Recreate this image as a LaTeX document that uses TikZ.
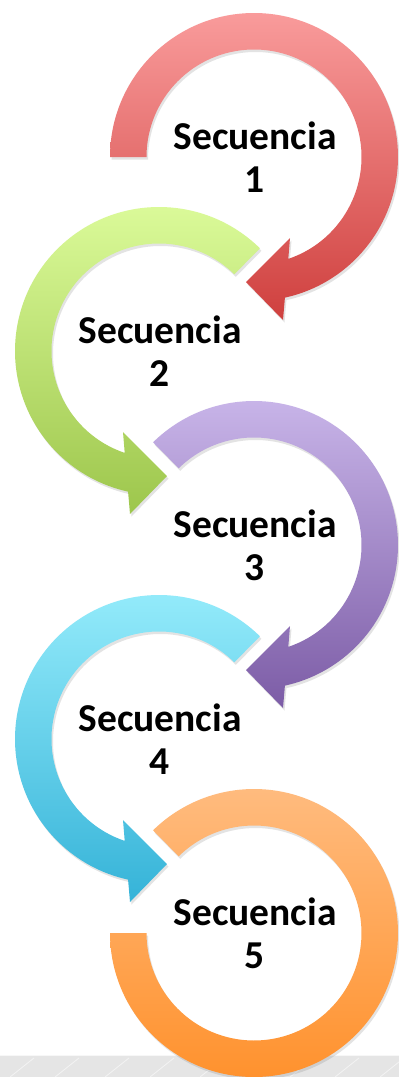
\documentclass[tikz,border=0pt]{standalone}
\usepackage{fontspec}
\setmainfont{Carlito}
\usetikzlibrary{shadows,calc}
\definecolor{redT}{HTML}{F99B9B}
\definecolor{redB}{HTML}{CF403E}
\definecolor{grnT}{HTML}{DDFC9C}
\definecolor{grnB}{HTML}{9DC64C}
\definecolor{purT}{HTML}{CBB8EB}
\definecolor{purB}{HTML}{7C5CA6}
\definecolor{bluT}{HTML}{97EDFC}
\definecolor{bluB}{HTML}{35B3D8}
\definecolor{orgT}{HTML}{FFBB7E}
\definecolor{orgB}{HTML}{FF922E}
\definecolor{stripG}{HTML}{E5E5E5}
\begin{document}
\begin{tikzpicture}[x=1pt,y=1pt,
  band/.style={draw=none, drop shadow={opacity=0.22, shadow xshift=1.5pt, shadow yshift=-2.5pt}},
  redband/.style={band, top color=redT, bottom color=redB},
  grnband/.style={band, top color=grnT, bottom color=grnB},
  purband/.style={band, top color=purT, bottom color=purB},
  bluband/.style={band, top color=bluT, bottom color=bluB},
  orgband/.style={band, top color=orgT, bottom color=orgB},
  lbl/.style={font=\fontsize{39.5}{43}\selectfont\bfseries, align=center, inner sep=0pt, text=black}]
\useasboundingbox (0,0) rectangle (399,-1077);
\fill[white] (0,0) rectangle (399,-1077);
% bottom strip
\fill[stripG] (0,-1055) rectangle (399,-1077);
\draw[white, opacity=0.7, line width=0.6pt] (0,-1055.5) -- (399,-1055.5);
\foreach \x in {10,55,105,150,200,245,290,335,380}
  \draw[white, opacity=0.55, line width=0.8pt] (\x,-1077) -- (\x+24,-1058);
% centres
\coordinate (c1) at (254,-157);
\coordinate (c2) at (159,-351);
\coordinate (c3) at (254,-545);
\coordinate (c4) at (159,-739);
\coordinate (c5) at (254,-933);
% 1 red (clockwise)
\begin{scope}[shift={(c1)}]
\path[redband] (180:144) arc[start angle=180, end angle=-77.6, radius=144]
  -- (29,-163) -- (-8,-125) -- (36,-81) -- (-71.4:107.5)
  arc[start angle=-71.4, end angle=180, radius=107.5] -- cycle;
\end{scope}
% 2 green (counter-clockwise)
\begin{scope}[shift={(c2)}]
\path[grnband] (45.5:144) arc[start angle=45.5, end angle=257.6, radius=144]
  -- (-29,-163) -- (8,-125) -- (-36,-81) -- (251.4:107.5)
  arc[start angle=251.4, end angle=45.5, radius=107.5] -- cycle;
\end{scope}
% 3 purple (clockwise)
\begin{scope}[shift={(c3)}]
\path[purband] (134.5:144) arc[start angle=134.5, end angle=-77.6, radius=144]
  -- (29,-163) -- (-8,-125) -- (36,-81) -- (-71.4:107.5)
  arc[start angle=-71.4, end angle=134.5, radius=107.5] -- cycle;
\end{scope}
% 4 blue (counter-clockwise)
\begin{scope}[shift={(c4)}]
\path[bluband] (45.5:144) arc[start angle=45.5, end angle=257.6, radius=144]
  -- (-29,-163) -- (8,-125) -- (-36,-81) -- (251.4:107.5)
  arc[start angle=251.4, end angle=45.5, radius=107.5] -- cycle;
\end{scope}
% 5 orange ring
\begin{scope}[shift={(c5)}]
\path[orgband] (180:144) arc[start angle=180, end angle=494.5, radius=144]
  -- (494.5:107.5) arc[start angle=494.5, end angle=180, radius=107.5] -- cycle;
\end{scope}
% labels
\node[lbl] (t1) at ($(c1)+(1,-0.5)$) {Secuencia\\1};
\node[lbl] (t2) at ($(c2)+(1,-0.5)$) {Secuencia\\2};
\node[lbl] (t3) at ($(c3)+(1,-0.5)$) {Secuencia\\3};
\node[lbl] (t4) at ($(c4)+(1,-0.5)$) {Secuencia\\4};
\node[lbl] (t5) at ($(c5)+(1,-0.5)$) {Secuencia\\5};
\end{tikzpicture}
\end{document}
